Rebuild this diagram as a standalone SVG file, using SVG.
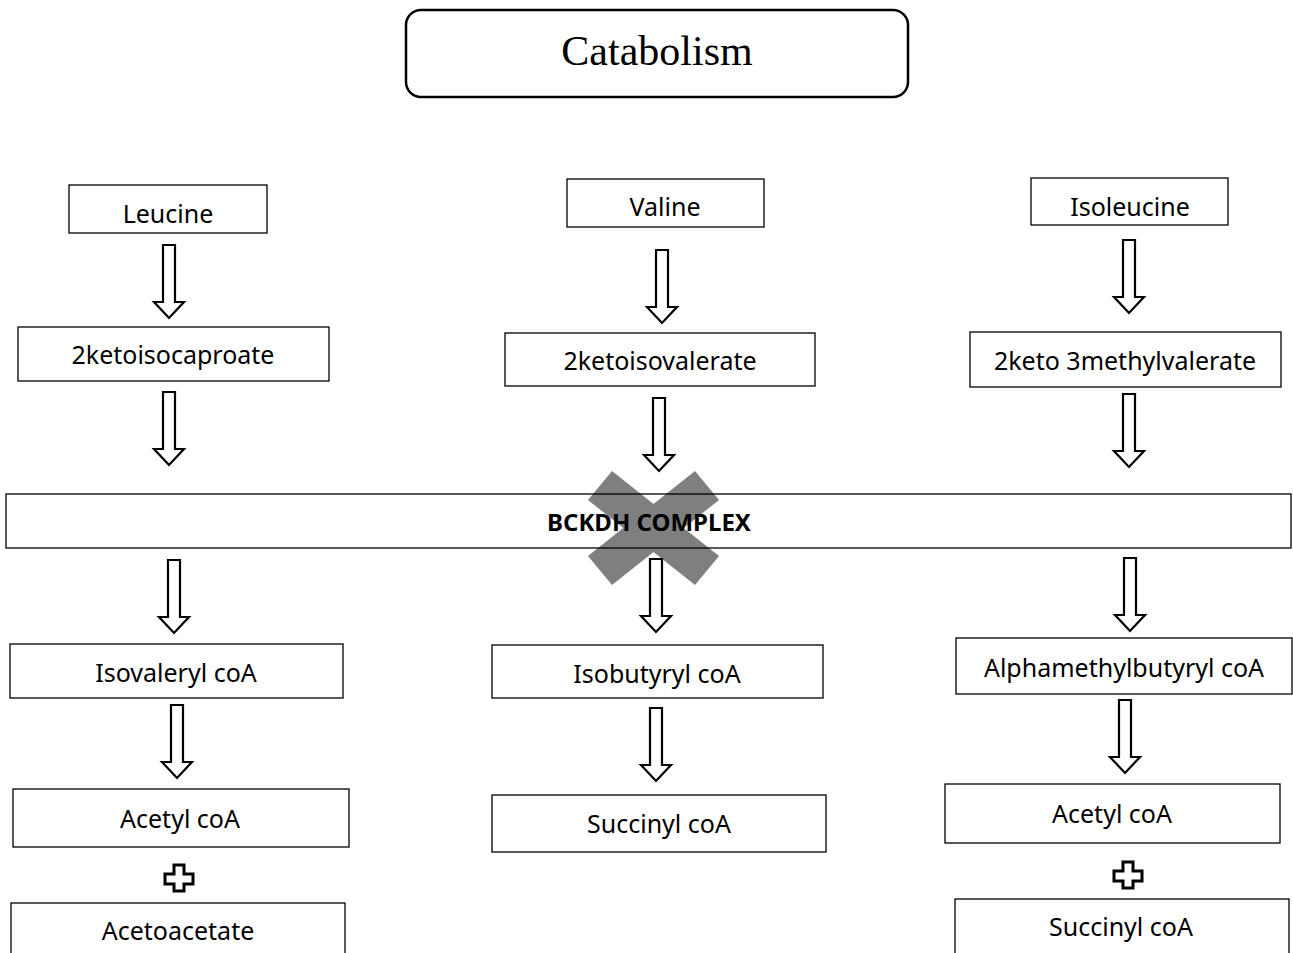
<svg xmlns="http://www.w3.org/2000/svg" width="1293" height="953" viewBox="0 0 1293 953">
<style>
.box{fill:#fff;stroke:#000;stroke-width:1.3}
.lbl{font-family:"Noto Sans","Open Sans",sans-serif;font-size:25px;fill:#000;text-anchor:middle}
.bold{font-weight:bold;font-size:24px}
.title{font-family:"Liberation Serif","Times New Roman",serif;font-size:42px;fill:#000;text-anchor:middle}
.arr{fill:#fff;stroke:#000;stroke-width:2.2;stroke-linejoin:miter}
.pl{fill:#fff;stroke:#000;stroke-width:3;stroke-linejoin:miter}
.xbar{fill:#7f7f7f}
</style>
<defs>
<path id="arrow" class="arr" d="M-6,0 H6 V57 H15 L0,73 L-15,57 H-6 Z"/>
<path id="plus" class="pl" d="M-5,-13 H5 V-4 H14 V6 H5 V13 H-5 V6 H-14 V-4 H-5 Z"/>
</defs>
<rect width="1293" height="953" fill="#fff"/>

<g id="title">
<rect x="406" y="10" width="502" height="87" rx="15" ry="15" fill="#fff" stroke="#000" stroke-width="2.5"/>
<text class="title" x="657" y="65">Catabolism</text>
</g>

<g id="block-x">
<polygon class="xbar" points="612,471 588,500 695,585 719,556"/>
<polygon class="xbar" points="695,471 719,500 612,585 588,556"/>
</g>

<g id="bckdh">
<rect x="6" y="494" width="1285" height="54" fill="none" stroke="#000" stroke-width="1.3"/>
<text class="lbl bold" x="649" y="531">BCKDH COMPLEX</text>
</g>

<g id="leucine"><rect class="box" x="69" y="185" width="198" height="48"/><text class="lbl" x="168" y="223">Leucine</text></g>
<g id="valine"><rect class="box" x="567" y="179" width="197" height="48"/><text class="lbl" x="665" y="216">Valine</text></g>
<g id="isoleucine"><rect class="box" x="1031" y="178" width="197" height="47"/><text class="lbl" x="1130" y="216">Isoleucine</text></g>

<g id="ketoisocaproate"><rect class="box" x="18" y="327" width="311" height="54"/><text class="lbl" x="173" y="364">2ketoisocaproate</text></g>
<g id="ketoisovalerate"><rect class="box" x="505" y="333" width="310" height="53"/><text class="lbl" x="660" y="370">2ketoisovalerate</text></g>
<g id="ketomethylvalerate"><rect class="box" x="970" y="332" width="311" height="55"/><text class="lbl" x="1125" y="370">2keto 3methylvalerate</text></g>

<g id="isovaleryl"><rect class="box" x="10" y="644" width="333" height="54"/><text class="lbl" x="176" y="682">Isovaleryl coA</text></g>
<g id="isobutyryl"><rect class="box" x="492" y="645" width="331" height="53"/><text class="lbl" x="657" y="683">Isobutyryl coA</text></g>
<g id="alphamethylbutyryl"><rect class="box" x="956" y="638" width="336" height="56"/><text class="lbl" x="1124" y="677">Alphamethylbutyryl coA</text></g>

<g id="acetyl-left"><rect class="box" x="13" y="789" width="336" height="58"/><text class="lbl" x="180" y="828">Acetyl coA</text></g>
<g id="succinyl-mid"><rect class="box" x="492" y="795" width="334" height="57"/><text class="lbl" x="659" y="833">Succinyl coA</text></g>
<g id="acetyl-right"><rect class="box" x="945" y="784" width="335" height="59"/><text class="lbl" x="1112" y="823">Acetyl coA</text></g>

<g id="acetoacetate"><rect class="box" x="11" y="903" width="334" height="60"/><text class="lbl" x="178" y="940">Acetoacetate</text></g>
<g id="succinyl-right"><rect class="box" x="955" y="899" width="334" height="64"/><text class="lbl" x="1121" y="936">Succinyl coA</text></g>

<g id="connectors">
<use href="#arrow" x="169" y="245"/>
<use href="#arrow" x="169" y="392"/>
<use href="#arrow" x="662" y="250"/>
<use href="#arrow" x="659" y="398"/>
<use href="#arrow" x="1129" y="240"/>
<use href="#arrow" x="1129" y="394"/>
<use href="#arrow" x="174" y="560"/>
<use href="#arrow" x="656" y="559"/>
<use href="#arrow" x="1130" y="558"/>
<use href="#arrow" x="177" y="705"/>
<use href="#arrow" x="656" y="708"/>
<use href="#arrow" x="1125" y="700"/>
<use href="#plus" x="179" y="878"/>
<use href="#plus" x="1128" y="875"/>
</g>
</svg>
